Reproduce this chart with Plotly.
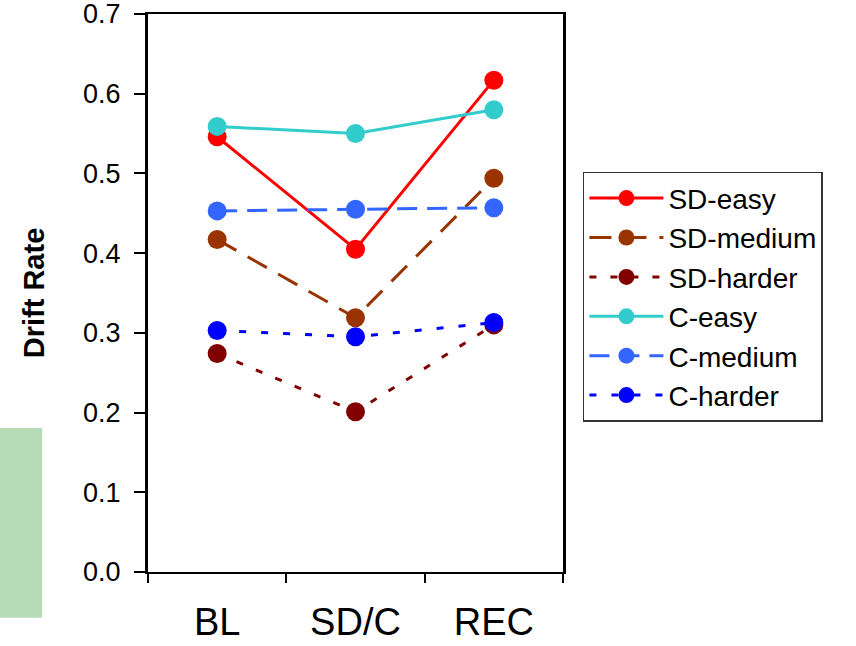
import plotly.graph_objects as go

categories = ["BL", "SD/C", "REC"]
sd_easy = [0.546, 0.405, 0.617]
sd_medium = [0.417, 0.319, 0.494]
sd_harder = [0.274, 0.201, 0.310]
c_easy = [0.559, 0.550, 0.580]
c_medium = [0.453, 0.455, 0.457]
c_harder = [0.303, 0.295, 0.313]
y_ticks = [0.0, 0.1, 0.2, 0.3, 0.4, 0.5, 0.6, 0.7]

series = [
    ("SD-easy", sd_easy, "#FF0000", "solid"),
    ("SD-medium", sd_medium, "#993300", "22px,13px"),
    ("SD-harder", sd_harder, "#800000", "7px,14px"),
    ("C-easy", c_easy, "#33CCCC", "solid"),
    ("C-medium", c_medium, "#3366FF", "20px,10px"),
    ("C-harder", c_harder, "#0000FF", "7px,15px"),
]

fig = go.Figure()
for name, vals, color, dash in series:
    fig.add_trace(go.Scatter(
        x=categories, y=vals, name=name, mode="lines+markers",
        line=dict(color=color, width=3, dash=dash),
        marker=dict(color=color, size=19),
    ))

fig.update_layout(
    width=856, height=646,
    margin=dict(l=148, r=293, t=14, b=74),
    paper_bgcolor="white", plot_bgcolor="white",
    font=dict(family="Liberation Sans, Arial, sans-serif", color="black"),
    showlegend=True,
    legend=dict(
        x=1.048, y=0.717, xanchor="left", yanchor="top",
        font=dict(size=28, color="black"),
        bordercolor="#333333", borderwidth=1.5,
        bgcolor="white", itemwidth=74,
    ),
    xaxis=dict(
        type="category", range=[-0.5, 2.5], tickson="boundaries",
        ticks="outside", ticklen=9, tickwidth=2, tickcolor="black",
        showline=True, linecolor="black", linewidth=2, mirror=True,
        showgrid=False, tickfont=dict(size=38), ticklabelstandoff=15,
        automargin=False,
    ),
    yaxis=dict(
        range=[0, 0.7], tickvals=y_ticks, tickformat=".1f",
        ticks="outside", ticklen=11, tickwidth=2, tickcolor="black",
        showline=True, linecolor="black", linewidth=3, mirror=True,
        showgrid=False, zeroline=False, tickfont=dict(size=27),
        ticklabelstandoff=8, ticklabeloverflow="allow", automargin=False,
        title=dict(text="<b>Drift Rate</b>", font=dict(size=29), standoff=30),
    ),
    shapes=[dict(
        type="rect", xref="paper", yref="paper",
        x0=-0.357, x1=-0.255, y0=-0.082, y1=0.258,
        fillcolor="#B6DBB6", line=dict(width=0), layer="below",
    )],
)

fig.write_html(
    "out.html",
    config={"displayModeBar": False},
    post_script="document.body.style.margin='0';document.body.style.overflow='hidden';",
)
